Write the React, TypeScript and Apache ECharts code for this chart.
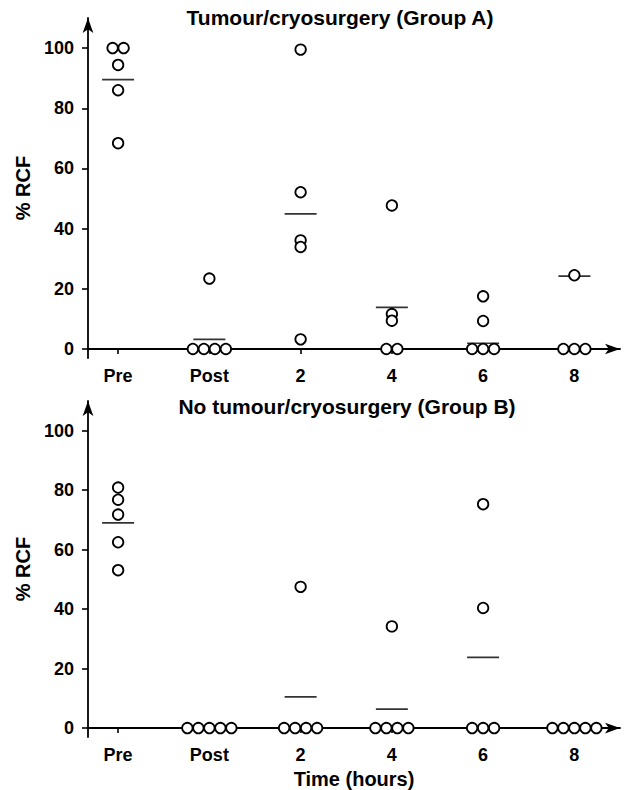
import React, { useEffect, useRef } from "react";
import * as echarts from "echarts";

const categories = ["Pre", "Post", "2", "4", "6", "8"];
const yTicks = [0, 20, 40, 60, 80, 100];

const groupA: number[][] = [
  [100, 100, 94.4, 86, 68.4],
  [23.4, 0, 0, 0, 0],
  [99.5, 52.1, 36.1, 33.9, 3.2],
  [47.7, 11.6, 9.4, 0, 0],
  [17.5, 9.3, 0, 0, 0],
  [24.5, 0, 0, 0],
];
const meansA = [89.5, 3.2, 44.9, 13.8, 1.9, 24.2];

const groupB: number[][] = [
  [80.9, 76.8, 71.8, 62.5, 53.1],
  [0, 0, 0, 0, 0],
  [47.5, 0, 0, 0, 0],
  [34.2, 0, 0, 0, 0],
  [75.3, 40.4, 0, 0, 0],
  [0, 0, 0, 0, 0],
];
const meansB = [69.0, 0, 10.5, 6.4, 23.8, 0];

const titleA = "Tumour/cryosurgery (Group A)";
const titleB = "No tumour/cryosurgery (Group B)";
const yName = "% RCF";
const xName = "Time (hours)";

const FONT = "'Liberation Sans', Arial, Helvetica, sans-serif";
const INK = "#000";
const JITTER = 11;

function buildPoints(groups: number[][]) {
  const out: any[] = [];
  groups.forEach((vals, i) => {
    const counts = new Map<number, number>();
    vals.forEach((v) => counts.set(v, (counts.get(v) || 0) + 1));
    const seen = new Map<number, number>();
    vals.forEach((v) => {
      const n = counts.get(v) || 1;
      const k = seen.get(v) || 0;
      seen.set(v, k + 1);
      const off = (k - (n - 1) / 2) * JITTER;
      out.push({ value: [i, v], symbolOffset: [off, 0] });
    });
  });
  return out;
}

function buildMeans(means: number[]) {
  return means.map((m, i) => [i, m]);
}

export default function App() {
  const ref = useRef<HTMLDivElement>(null);
  useEffect(() => {
    document.body.style.margin = "0";
    if (!ref.current) return;
    const chart = echarts.init(ref.current, undefined, { renderer: "svg" });

    const makeX = (gi: number, withName: boolean) => ({
      type: "value",
      gridIndex: gi,
      min: -0.33,
      max: 5.5,
      name: withName ? xName : "",
      nameLocation: "middle",
      nameGap: 32,
      nameTextStyle: { fontFamily: FONT, fontWeight: "bold", fontSize: 20, color: INK },
      axisLine: {
        onZero: true,
        symbol: ["none", "arrow"],
        symbolSize: [8, 15],
        lineStyle: { color: INK, width: 1.8 },
      },
      axisTick: {
        show: true,
        customValues: [0, 1, 2, 3, 4, 5],
        length: 5,
        lineStyle: { color: INK, width: 1.6 },
      },
      axisLabel: {
        customValues: [0, 1, 2, 3, 4, 5],
        formatter: (v: number) => categories[Math.round(v)] ?? "",
        margin: 9,
        fontFamily: FONT,
        fontWeight: "bold",
        fontSize: 18,
        color: INK,
      },
      splitLine: { show: false },
    });

    const makeY = (gi: number) => ({
      type: "value",
      gridIndex: gi,
      min: -3,
      max: 110,
      name: yName,
      nameLocation: "middle",
      nameRotate: 90,
      nameGap: 52,
      nameTextStyle: { fontFamily: FONT, fontWeight: "bold", fontSize: 20, color: INK },
      axisLine: {
        onZero: false,
        symbol: ["none", "arrow"],
        symbolSize: [8, 15],
        lineStyle: { color: INK, width: 1.8 },
      },
      axisTick: {
        show: true,
        customValues: yTicks,
        length: 6,
        lineStyle: { color: INK, width: 1.6 },
      },
      axisLabel: {
        customValues: yTicks,
        margin: 14,
        fontFamily: FONT,
        fontWeight: "bold",
        fontSize: 18,
        color: INK,
      },
      splitLine: { show: false },
    });

    const meanSeries = (gi: number, means: number[]) => ({
      type: "scatter",
      xAxisIndex: gi,
      yAxisIndex: gi,
      symbol: "rect",
      symbolSize: [32, 1.7],
      itemStyle: { color: INK },
      silent: true,
      z: 2,
      data: buildMeans(means),
    });

    const pointSeries = (gi: number, groups: number[][]) => ({
      type: "scatter",
      xAxisIndex: gi,
      yAxisIndex: gi,
      symbol: "circle",
      symbolSize: 10.5,
      itemStyle: { color: "#fff", borderColor: INK, borderWidth: 1.8, opacity: 1 },
      silent: true,
      z: 3,
      data: buildPoints(groups),
    });

    chart.setOption({
      animation: false,
      backgroundColor: "#fff",
      grid: [
        { left: 88, top: 18, width: 532, height: 340 },
        { left: 88, top: 401, width: 532, height: 341 },
      ],
      xAxis: [makeX(0, false), makeX(1, true)],
      yAxis: [makeY(0), makeY(1)],
      graphic: [
        {
          type: "text",
          x: 340,
          y: 17,
          style: {
            text: titleA,
            fill: INK,
            font: `bold 21px ${FONT}`,
            textAlign: "center",
            textVerticalAlign: "middle",
          },
        },
        {
          type: "text",
          x: 347,
          y: 406,
          style: {
            text: titleB,
            fill: INK,
            font: `bold 21px ${FONT}`,
            textAlign: "center",
            textVerticalAlign: "middle",
          },
        },
      ],
      series: [
        meanSeries(0, meansA),
        pointSeries(0, groupA),
        meanSeries(1, meansB),
        pointSeries(1, groupB),
      ],
    });
    return () => chart.dispose();
  }, []);
  return <div ref={ref} style={{ width: 625, height: 790 }} />;
}
